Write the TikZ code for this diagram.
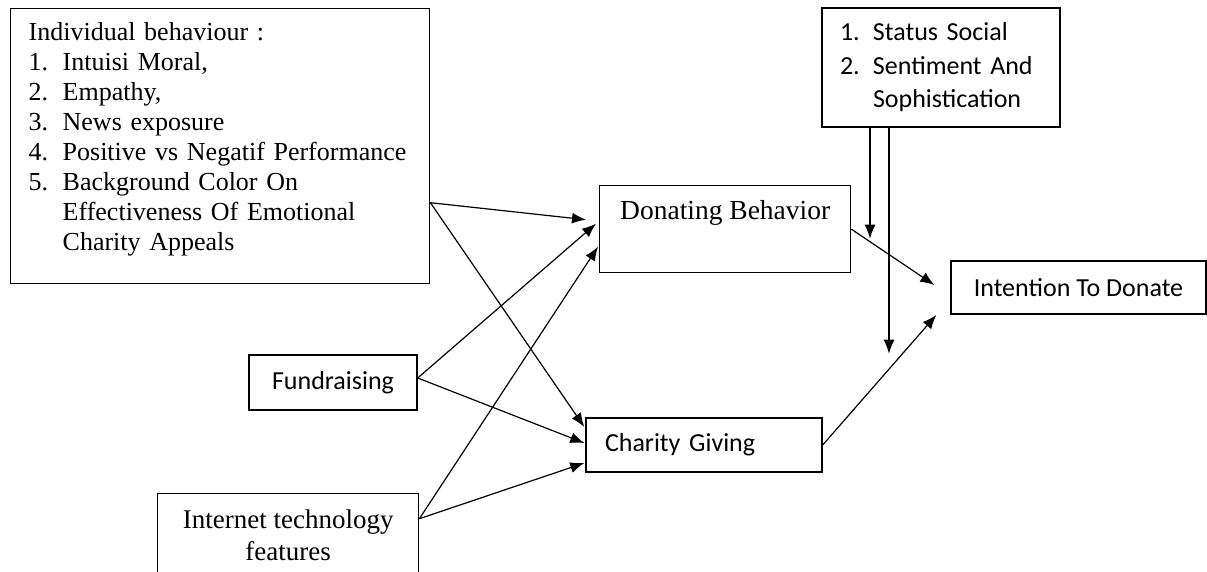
\documentclass[tikz,border=0pt]{standalone}
\usepackage{fontspec}
\setmainfont{Liberation Serif}
\newfontfamily\calib{Carlito}
\usetikzlibrary{arrows.meta}
\tikzset{
  box/.style={draw, line width=1.4pt, inner sep=0pt},
  arr/.style={-{Latex[length=14pt,width=11pt]}, line width=1.2pt},
  sans/.style={font=\calib\fontsize{26}{33.5}\selectfont},
  serif/.style={font=\fontsize{26}{30}\selectfont},
}
\begin{document}
\begin{tikzpicture}[x=1pt, y=-1pt]
  \useasboundingbox (0,0) rectangle (1207,572);
  % boxes
  \node[box, serif, anchor=north west, text width=383pt, align=left,
        inner xsep=18pt, minimum height=275pt] (indiv) at (10,8)
    {\begin{tabular}{@{}p{34pt}@{}l@{}}
       \multicolumn{2}{@{}l@{}}{Individual behaviour :}\\
       1. & Intuisi Moral,\\
       2. & Empathy,\\
       3. & News exposure\\
       4. & Positive vs Negatif Performance\\
       5. & Background Color On\\
          & Effectiveness Of Emotional\\
          & Charity Appeals\\[14pt]
     \end{tabular}};
  \node[box, sans, text width=202pt, align=left, inner xsep=18pt,
        minimum height=119pt] (status) at (941,67.5)
    {\begin{tabular}{@{}p{33pt}@{}l@{}}
       1. & Status Social\\
       2. & Sentiment And\\
          & Sophistication
     \end{tabular}};
  \node[box, font=\fontsize{27.5}{32}\selectfont, anchor=north west,
        minimum width=251pt, text height=34pt, text depth=53pt] (donate)
    at (599,185) {Donating Behavior};
  \node[box, sans, minimum width=255pt, minimum height=53pt] (intent)
    at (1078.5,287.5) {Intention To Donate};
  \node[box, sans, minimum width=168pt, minimum height=55pt] (fund)
    at (333,382.5) {Fundraising};
  \node[box, sans, text width=198pt, align=left, inner xsep=19pt,
        minimum height=54pt] (charity) at (704,445) {Charity Giving};
  \node[box, font=\fontsize{27}{32}\selectfont, align=center, anchor=north west,
        minimum width=261pt, minimum height=83pt] (internet) at (157,493)
    {Internet technology\\features};
  % arrows
  \draw[arr] ([yshift=-56.5pt]indiv.east) -- ([xshift=-13pt,yshift=9.5pt]donate.west);
  \draw[arr] ([yshift=-56.5pt]indiv.east) -- ([xshift=-1pt,yshift=18pt]charity.west);
  \draw[arr] ([yshift=4.5pt]fund.east) -- ([xshift=-3pt,yshift=5.5pt]donate.west);
  \draw[arr] ([yshift=4.5pt]fund.east) -- ([xshift=-1pt,yshift=2pt]charity.west);
  \draw[arr] ([yshift=16.5pt]internet.east) -- ([xshift=-1pt,yshift=-17.5pt]donate.west);
  \draw[arr] ([yshift=16.5pt]internet.east) -- ([xshift=-1pt,yshift=-18pt]charity.west);
  \draw[arr] (donate.east) -- ([xshift=-16pt,yshift=2.5pt]intent.west);
  \draw[arr] (charity.east) -- ([xshift=-14pt,yshift=-27.5pt]intent.west);
  \draw[arr] ([xshift=-71pt]status.south) -- ++(0,111);
  \draw[arr] ([xshift=-52pt]status.south) -- ++(0,226);
\end{tikzpicture}
\end{document}
